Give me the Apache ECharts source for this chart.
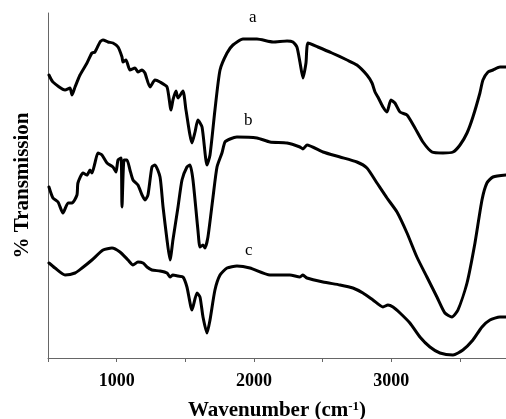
<!DOCTYPE html>
<html>
<head>
<meta charset="utf-8">
<script src="https://cdn.jsdelivr.net/npm/echarts@6/dist/echarts.min.js"></script>
<style>
  html, body { margin: 0; padding: 0; background: #fff; }
  #chart { width: 506px; height: 419px; }
</style>
</head>
<body>
<div id="chart"></div>
<script>
// wavenumber (cm-1), transmission (arbitrary units, offset traces)
var spectrumA = [
  [507, 283], [536, 276], [624, 268], [660, 270], [675, 263], [697, 271], [733, 283],
  [784, 295], [820, 305], [842, 306], [879, 316], [901, 318], [937, 316], [973, 315],
  [1010, 311], [1039, 301], [1046, 296], [1068, 298], [1097, 288], [1134, 290], [1155, 286],
  [1185, 288], [1206, 285], [1243, 271], [1279, 278], [1316, 276], [1367, 271], [1396, 248],
  [1410, 258], [1432, 267], [1447, 260], [1483, 267], [1505, 248], [1549, 215], [1571, 226],
  [1592, 238], [1622, 231], [1658, 193], [1680, 203], [1716, 248], [1753, 288], [1804, 305],
  [1847, 313], [1920, 319], [2022, 319], [2139, 316], [2241, 317], [2284, 316], [2313, 311],
  [2335, 296], [2357, 280], [2379, 295], [2394, 315], [2466, 311], [2568, 305], [2678, 298],
  [2750, 293], [2823, 283], [2860, 275], [2882, 266], [2903, 261], [2940, 251], [2969, 246],
  [2998, 258], [3027, 255], [3064, 246], [3115, 243], [3173, 230], [3231, 216], [3297, 206],
  [3377, 205], [3450, 206], [3501, 213], [3552, 225], [3595, 241], [3646, 265], [3668, 278],
  [3705, 286], [3741, 288], [3792, 291], [3836, 291]
];
var spectrumB = [
  [507, 171], [536, 160], [573, 156], [609, 145], [646, 155], [675, 155], [711, 163],
  [718, 175], [755, 185], [784, 183], [806, 188], [820, 185], [842, 195], [864, 205],
  [893, 203], [930, 195], [973, 191], [995, 186], [1010, 198], [1032, 200], [1039, 151],
  [1054, 198], [1075, 198], [1097, 188], [1119, 178], [1155, 173], [1185, 163], [1206, 158],
  [1228, 163], [1257, 191], [1279, 193], [1316, 181], [1338, 151], [1367, 118], [1389, 98],
  [1410, 118], [1447, 151], [1476, 178], [1512, 191], [1534, 193], [1556, 178], [1592, 128],
  [1607, 111], [1629, 113], [1643, 110], [1665, 121], [1702, 161], [1731, 191], [1767, 205],
  [1789, 216], [1826, 219], [1876, 221], [2022, 220], [2117, 216], [2241, 215], [2335, 211],
  [2357, 209], [2386, 213], [2503, 206], [2627, 201], [2750, 196], [2823, 190], [2896, 175],
  [2969, 160], [3042, 146], [3115, 125], [3187, 101], [3260, 81], [3333, 61], [3391, 45],
  [3442, 41], [3486, 48], [3552, 75], [3610, 115], [3661, 158], [3697, 175], [3741, 181],
  [3836, 183]
];
var spectrumC = [
  [507, 95], [551, 90], [624, 83], [697, 85], [748, 90], [820, 98], [901, 108], [966, 110],
  [1024, 106], [1083, 98], [1119, 93], [1155, 96], [1192, 95], [1221, 91], [1257, 88],
  [1316, 87], [1367, 85], [1389, 81], [1410, 83], [1447, 82], [1483, 81], [1512, 71],
  [1549, 48], [1585, 65], [1607, 61], [1629, 41], [1658, 25], [1680, 38], [1716, 68],
  [1753, 83], [1804, 90], [1876, 92], [1971, 90], [2117, 83], [2262, 83], [2335, 81],
  [2357, 83], [2386, 80], [2503, 76], [2627, 73], [2721, 70], [2794, 65], [2867, 58],
  [2940, 51], [2976, 53], [3013, 51], [3064, 45], [3136, 35], [3209, 21], [3282, 11],
  [3355, 5], [3450, 3], [3522, 8], [3595, 18], [3661, 31], [3719, 38], [3792, 41], [3836, 41]
];
var traceNames = ['a', 'b', 'c'];
var xTickLabels = [1000, 2000, 3000];

var chart = echarts.init(document.getElementById('chart'), null, { renderer: 'canvas' });

function traceSeries(name, data) {
  return {
    name: name,
    type: 'line',
    data: data,
    showSymbol: false,
    smooth: 0.2,
    silent: true,
    lineStyle: { color: '#000', width: 3, join: 'round', cap: 'round' }
  };
}

var serif = '"Liberation Serif", "DejaVu Serif", serif';

var option = {
  animation: false,
  backgroundColor: '#fff',
  grid: { left: 48, right: 0, top: 13, bottom: 61, containLabel: false, outerBoundsMode: 'none' },
  xAxis: {
    type: 'value',
    min: 500,
    max: 3836,
    interval: 500,
    name: '{t|Wavenumber (cm}{s|-1}{t|)}',
    nameLocation: 'middle',
    nameGap: 42,
    nameTextStyle: {
      rich: {
        t: { fontFamily: serif, fontWeight: 'bold', fontSize: 21, color: '#000' },
        s: { fontFamily: serif, fontWeight: 'bold', fontSize: 13, color: '#000', verticalAlign: 'top', padding: [0, 0, 9, 0] }
      }
    },
    axisLine: { lineStyle: { color: '#666', width: 1 } },
    axisTick: { inside: false, length: 4, lineStyle: { color: '#666' } },
    axisLabel: {
      margin: 14,
      fontFamily: serif,
      fontWeight: 'bold',
      fontSize: 18,
      color: '#000',
      showMaxLabel: false,
      formatter: function (v) {
        return xTickLabels.indexOf(v) >= 0 ? String(v) : '';
      }
    },
    splitLine: { show: false }
  },
  yAxis: {
    type: 'value',
    min: 0,
    max: 345,
    name: '% Transmission',
    nameLocation: 'middle',
    nameGap: 15,
    nameTextStyle: { fontFamily: serif, fontWeight: 'bold', fontSize: 21, color: '#000' },
    axisLine: { show: true, lineStyle: { color: '#666', width: 1 } },
    axisTick: { show: false },
    axisLabel: { show: false },
    splitLine: { show: false }
  },
  series: [
    traceSeries(traceNames[0], spectrumA),
    traceSeries(traceNames[1], spectrumB),
    traceSeries(traceNames[2], spectrumC)
  ],
  graphic: [
    { type: 'text', left: 249, top: 9, style: { text: traceNames[0], font: '17px ' + serif, fill: '#000' } },
    { type: 'text', left: 244, top: 112, style: { text: traceNames[1], font: '17px ' + serif, fill: '#000' } },
    { type: 'text', left: 245, top: 242, style: { text: traceNames[2], font: '17px ' + serif, fill: '#000' } }
  ]
};

chart.setOption(option);
</script>
</body>
</html>
